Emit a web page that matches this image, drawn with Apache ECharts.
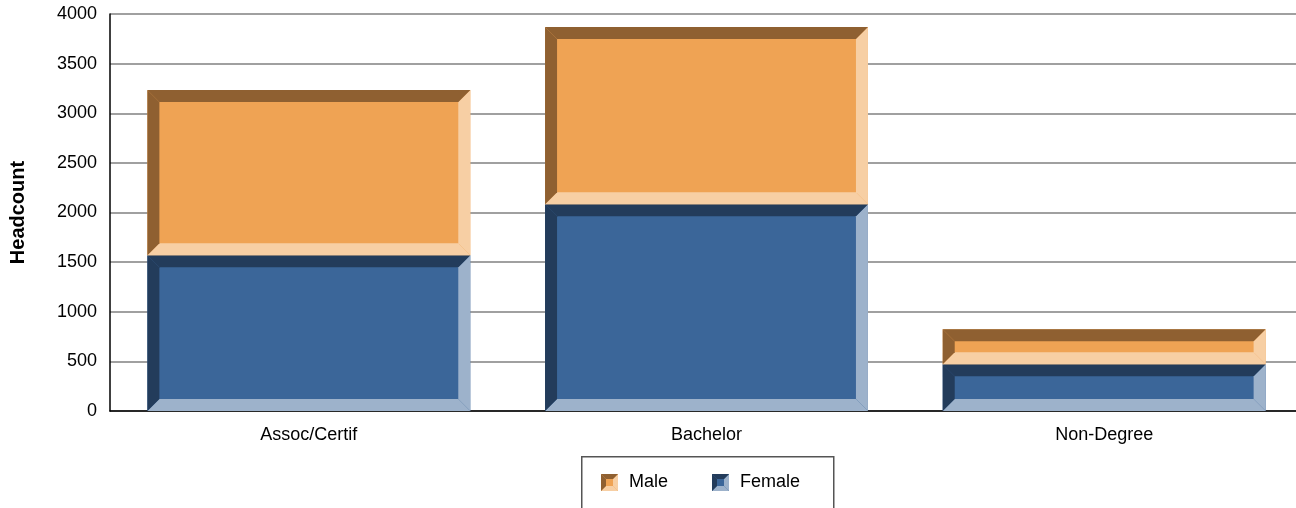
<!DOCTYPE html>
<html>
<head>
<meta charset="utf-8">
<script src="https://cdn.jsdelivr.net/npm/echarts@6/dist/echarts.min.js"></script>
<style>
html,body{margin:0;padding:0;background:#fff;}
#chart{width:1296px;height:508px;}
</style>
</head>
<body>
<div id="chart"></div>
<script>
var categories = ['Assoc/Certif', 'Bachelor', 'Non-Degree'];
var female = [1570, 2083, 470];
var male = [1665, 1786, 353];
var yTicks = [0, 500, 1000, 1500, 2000, 2500, 3000, 3500, 4000];

var FEMALE_COL = {main: '#3B6699', dark: '#233C5B', light: '#9DB2CB'};
var MALE_COL = {main: '#EFA354', dark: '#8F6031', light: '#F7CFA4'};
var BEVEL = 12;

function bevelShapes(x0, y0, x1, y1, b, c) {
  var h = y1 - y0;
  var bb = Math.min(b, h / 2, (x1 - x0) / 2);
  return [
    {type: 'rect', shape: {x: x0, y: y0, width: x1 - x0, height: h}, style: {fill: c.main}},
    {type: 'polygon', shape: {points: [[x0, y1], [x1, y1], [x1 - bb, y1 - bb], [x0 + bb, y1 - bb]]}, style: {fill: c.light}},
    {type: 'polygon', shape: {points: [[x1, y0], [x1, y1], [x1 - bb, y1 - bb], [x1 - bb, y0 + bb]]}, style: {fill: c.light}},
    {type: 'polygon', shape: {points: [[x0, y0], [x1, y0], [x1 - bb, y0 + bb], [x0 + bb, y0 + bb]]}, style: {fill: c.dark}},
    {type: 'polygon', shape: {points: [[x0, y0], [x0 + bb, y0 + bb], [x0 + bb, y1 - bb], [x0, y1]]}, style: {fill: c.dark}}
  ];
}

function makeRender(c) {
  return function (params, api) {
    var ci = api.value(0), lo = api.value(1), hi = api.value(2);
    var pLo = api.coord([ci, lo]);
    var pHi = api.coord([ci, hi]);
    var bw = api.size([1, 0])[0] * 0.812;
    var x0 = pLo[0] - bw / 2, x1 = pLo[0] + bw / 2;
    return {type: 'group', children: bevelShapes(x0, pHi[1], x1, pLo[1], BEVEL, c)};
  };
}

var femaleData = categories.map(function (c, i) { return [i, 0, female[i]]; });
var maleData = categories.map(function (c, i) { return [i, female[i], female[i] + male[i]]; });

function legendIcon(x, y, c) {
  return {type: 'group', x: x, y: y, children: bevelShapes(0, 0, 17, 17, 5, c)};
}

var chart = echarts.init(document.getElementById('chart'), null, {renderer: 'canvas'});
chart.setOption({
  animation: false,
  backgroundColor: '#ffffff',
  textStyle: {fontFamily: 'Liberation Sans, Arial, sans-serif'},
  grid: {left: 110, right: -7, top: 14, bottom: 97, containLabel: false, outerBoundsMode: 'none'},
  xAxis: {
    type: 'category',
    data: categories,
    axisLine: {show: true, lineStyle: {color: '#000', width: 1.5}},
    axisTick: {show: false},
    axisLabel: {color: '#000', fontSize: 18, margin: 15, fontFamily: 'Liberation Sans, Arial, sans-serif'},
    splitLine: {show: false}
  },
  yAxis: {
    type: 'value',
    min: yTicks[0],
    max: yTicks[yTicks.length - 1],
    interval: yTicks[1] - yTicks[0],
    name: 'Headcount',
    nameLocation: 'middle',
    nameGap: 82,
    nameTextStyle: {color: '#000', fontSize: 20, fontWeight: 'bold', fontFamily: 'Liberation Sans, Arial, sans-serif'},
    axisLine: {show: true, lineStyle: {color: '#000', width: 1.5}},
    axisTick: {show: false},
    axisLabel: {color: '#000', fontSize: 18, margin: 13, fontFamily: 'Liberation Sans, Arial, sans-serif',
      formatter: function (v) { return String(v); }},
    splitLine: {show: true, lineStyle: {color: '#808080', width: 1.5}}
  },
  series: [
    {name: 'Female', type: 'custom', renderItem: makeRender(FEMALE_COL), encode: {x: 0, y: [1, 2]}, data: femaleData, z: 2},
    {name: 'Male', type: 'custom', renderItem: makeRender(MALE_COL), encode: {x: 0, y: [1, 2]}, data: maleData, z: 2}
  ],
  graphic: [
    {type: 'rect', left: 581, top: 456, shape: {width: 252, height: 60}, style: {fill: '#fff', stroke: '#555', lineWidth: 1.5}},
    legendIcon(601, 474, MALE_COL),
    {type: 'text', left: 629, top: 473, style: {text: 'Male', fill: '#000', font: '18px "Liberation Sans", Arial, sans-serif'}},
    legendIcon(712, 474, FEMALE_COL),
    {type: 'text', left: 740, top: 473, style: {text: 'Female', fill: '#000', font: '18px "Liberation Sans", Arial, sans-serif'}}
  ]
});
</script>
</body>
</html>
